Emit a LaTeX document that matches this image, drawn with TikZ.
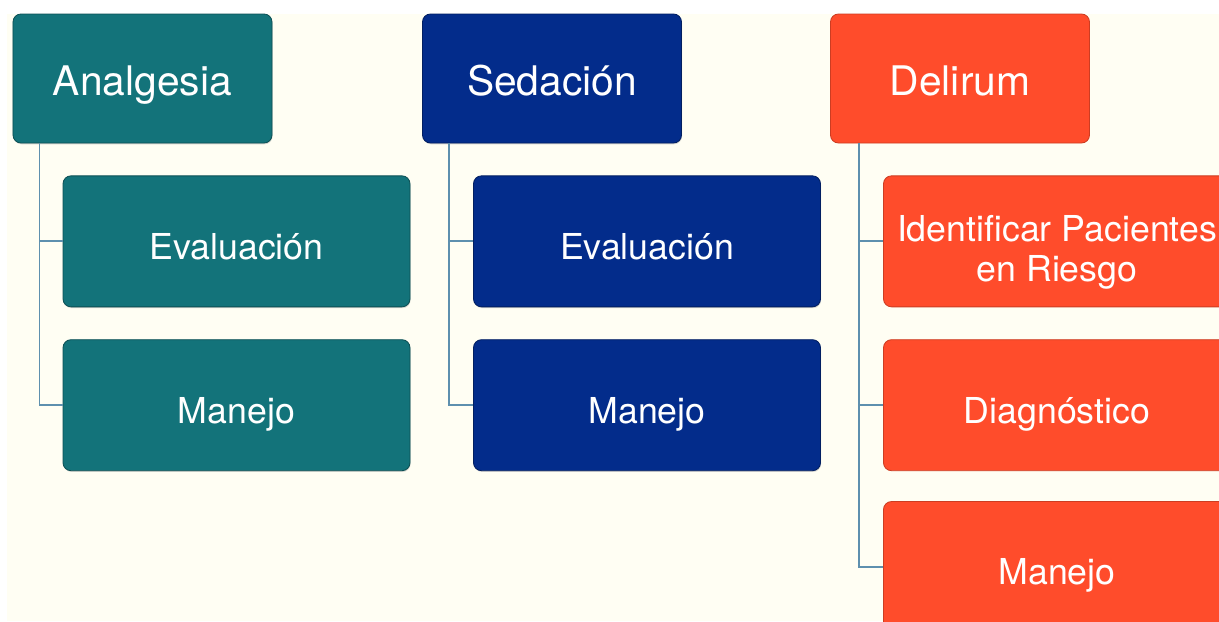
\documentclass[tikz,border=0pt]{standalone}
\usepackage{fontspec}
\setmainfont{TeX Gyre Heros}
\usetikzlibrary{positioning,shadows}
\definecolor{paper}{HTML}{FFFEF3}
\definecolor{tealbox}{HTML}{13737A}
\definecolor{navybox}{HTML}{032C8B}
\definecolor{redbox}{HTML}{FF4C2B}
\definecolor{wire}{HTML}{5E90AE}

\begin{document}
\begin{tikzpicture}[
    topic/.style={draw, rounded corners=0.2cm, line width=0.6pt, text=white, minimum width=6.475cm, minimum height=3.225cm, text height=24.6pt, text depth=0pt, font=\fontsize{29}{33}\selectfont},
    item/.style={draw, rounded corners=0.2cm, line width=0.6pt, text=white, minimum width=8.675cm, minimum height=3.275cm, text height=25.4pt, text depth=0pt, align=center, font=\fontsize{25.4}{28.5}\selectfont},
    anabox/.style={fill=tealbox, draw=tealbox!70!black, drop shadow={opacity=0.3, shadow xshift=0.4pt, shadow yshift=-0.9pt}},
    sedbox/.style={fill=navybox, draw=navybox!70!black, drop shadow={opacity=0.3, shadow xshift=0.4pt, shadow yshift=-0.9pt}},
    delbox/.style={fill=redbox, draw=redbox!80!black},
    link/.style={wire, line width=1.3pt}
]
    \useasboundingbox (0,0) rectangle (30.475,-15.525);
    \fill[white] (0,0) rectangle (30.475,-15.525);
    \fill[paper] (0.175,-0.35) rectangle (30.475,-15.525);
    \clip (0,0) rectangle (30.475,-15.525);

    \node[topic, anabox] (analgesia) at (3.5625,-1.9625) {Analgesia};
    \node[topic, sedbox] (sedacion) at (13.8,-1.9625) {Sedación};
    \node[topic, delbox] (delirum) at (24.0,-1.9625) {Delirum};

    \node[item, anabox, below=0.8cm of analgesia.south west, anchor=north west, xshift=1.25cm] (anaeval) {Evaluación};
    \node[item, anabox, below=0.8cm of anaeval] (anaman) {Manejo};

    \node[item, sedbox, below=0.8cm of sedacion.south west, anchor=north west, xshift=1.275cm] (sedeval) {Evaluación};
    \node[item, sedbox, below=0.8cm of sedeval] (sedman) {Manejo};

    \node[item, delbox, below=0.8cm of delirum.south west, anchor=north west, xshift=1.325cm, text height=57pt] (delriesgo) {Identificar Pacientes\\en Riesgo};
    \node[item, delbox, below=0.8cm of delriesgo] (deldiag) {Diagnóstico};
    \node[item, delbox, below=0.75cm of deldiag] (delman) {Manejo};

    \draw[link] ([xshift=0.675cm]analgesia.south west) |- (anaeval.west);
    \draw[link] ([xshift=0.675cm]analgesia.south west) |- (anaman.west);
    \draw[link] ([xshift=0.675cm]sedacion.south west) |- (sedeval.west);
    \draw[link] ([xshift=0.675cm]sedacion.south west) |- (sedman.west);
    \draw[link] ([xshift=0.725cm]delirum.south west) |- (delriesgo.west);
    \draw[link] ([xshift=0.725cm]delirum.south west) |- (deldiag.west);
    \draw[link] ([xshift=0.725cm]delirum.south west) |- (delman.west);
\end{tikzpicture}
\end{document}
